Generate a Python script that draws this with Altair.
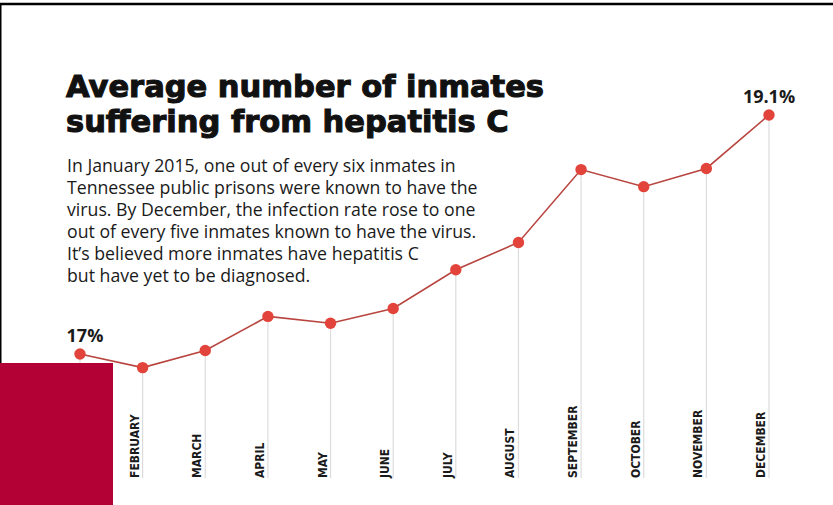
import altair as alt
import pandas as pd

months = ["JANUARY", "FEBRUARY", "MARCH", "APRIL", "MAY", "JUNE", "JULY",
          "AUGUST", "SEPTEMBER", "OCTOBER", "NOVEMBER", "DECEMBER"]
rates = [17.0, 16.88, 17.03, 17.33, 17.27, 17.40, 17.74, 17.98, 18.62, 18.47, 18.63, 19.1]

title_lines = ["Average number of inmates", "suffering from hepatitis C"]
desc_lines = [
    "In January 2015, one out of every six inmates in",
    "Tennessee public prisons were known to have the",
    "virus. By December, the infection rate rose to one",
    "out of every five inmates known to have the virus.",
    "It\u2019s believed more inmates have hepatitis C",
    "but have yet to be diagnosed.",
]
annot_idx = [0, 11]
annot_text = ["17%", "19.1%"]
annot_dx = [5, 0]

W, H = 833, 505

df = pd.DataFrame({"idx": list(range(len(months))), "month": months, "rate": rates})
ann = pd.DataFrame({"idx": annot_idx, "rate": [rates[i] for i in annot_idx],
                    "label": annot_text, "dx": annot_dx})

xs = alt.Scale(domain=[-1.277, 12.022])
ys = alt.Scale(domain=[15.673, 20.110])
X = alt.X("idx:Q", scale=xs, axis=None)
Y = alt.Y("rate:Q", scale=ys, axis=None)

base = alt.Chart(df)

grid = base.mark_rule(color="#dcdcdc", strokeWidth=1.2).encode(
    x=X, y=Y, y2=alt.value(478)
)
line = base.mark_line(color="#b8453f", strokeWidth=1.6).encode(x=X, y=Y)
pts = base.mark_circle(color="#e2443b", opacity=1, size=130).encode(x=X, y=Y)

month_lbl = base.mark_text(
    angle=270, align="left", baseline="bottom", dy=-1,
    font="DejaVu Sans Condensed", fontWeight="bold", fontSize=12, color="#1a1a1a"
).encode(x=X, y=alt.value(478), text="month:N")

ann_a = alt.Chart(ann).transform_filter("datum.dx > 0").mark_text(
    font="Open Sans", fontWeight="bold", fontSize=18, color="#1a1a1a",
    baseline="alphabetic", dy=-12, dx=5
).encode(x=X, y=Y, text="label:N")
ann_b = alt.Chart(ann).transform_filter("datum.dx <= 0").mark_text(
    font="Open Sans", fontWeight="bold", fontSize=18, color="#1a1a1a",
    baseline="alphabetic", dy=-12
).encode(x=X, y=Y, text="label:N")

# title & description
tdf = pd.DataFrame({"t": ["\n".join(title_lines)]})
title = alt.Chart(tdf).mark_text(
    align="left", baseline="alphabetic", font="DejaVu Sans", fontWeight="bold", fontSize=30.5,
    lineHeight=35, color="#111111", stroke="#111111", strokeWidth=1.1, lineBreak="\n"
).encode(x=alt.value(66), y=alt.value(97), text="t:N")

ddf = pd.DataFrame({"t": ["\n".join(desc_lines)]})
desc = alt.Chart(ddf).mark_text(
    align="left", baseline="alphabetic", font="Open Sans", fontSize=17.7,
    lineHeight=22, color="#1a1a1a", lineBreak="\n"
).encode(x=alt.value(67), y=alt.value(172), text="t:N")

one = pd.DataFrame({"a": [0]})
box = alt.Chart(one).mark_rect(color="#b30035").encode(
    x=alt.value(0), x2=alt.value(113), y=alt.value(363), y2=alt.value(505)
)
top_border = alt.Chart(one).mark_rule(color="#000000", strokeWidth=2.5).encode(
    x=alt.value(0), x2=alt.value(W), y=alt.value(4)
)
left_border = alt.Chart(one).mark_rule(color="#000000", strokeWidth=1.5).encode(
    x=alt.value(0.75), y=alt.value(3), y2=alt.value(363)
)

chart = alt.layer(
    grid, month_lbl, line, pts, ann_a, ann_b, title, desc, box, top_border, left_border
).properties(
    width=W, height=H, padding=0, autosize=alt.AutoSizeParams(type="none"),
    background="#ffffff"
).configure_view(stroke=None)

chart.save("out.html", embed_options={"renderer": "svg", "actions": False})
